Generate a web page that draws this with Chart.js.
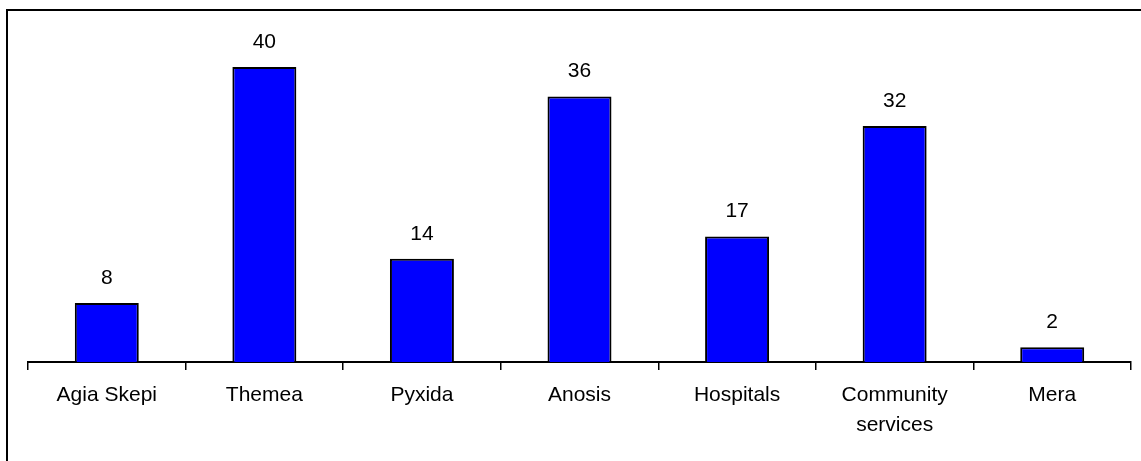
<!DOCTYPE html>
<html>
<head>
<meta charset="utf-8">
<script src="https://cdn.jsdelivr.net/npm/chart.js@4/dist/chart.umd.min.js"></script>
<style>
  html, body { margin: 0; padding: 0; background: #fff; }
  #wrap { position: relative; width: 1141px; height: 461px; }
</style>
</head>
<body>
<div id="wrap"><canvas id="chart"></canvas></div>
<script>
// --- data
const categories = ["Agia Skepi", "Themea", "Pyxida", "Anosis", "Hospitals", ["Community", "services"], "Mera"];
const counts = [8, 40, 14, 36, 17, 32, 2];

// --- frame round the chart (only top + left are visible)
const framePlugin = {
  id: 'frame',
  beforeDraw(chart) {
    const ctx = chart.ctx;
    ctx.save();
    ctx.strokeStyle = '#000';
    ctx.lineWidth = 2;
    ctx.beginPath();
    ctx.moveTo(7, 461);
    ctx.lineTo(7, 10);
    ctx.lineTo(1141, 10);
    ctx.stroke();
    ctx.restore();
  }
};

// --- numbers above bars
const valueLabels = {
  id: 'valueLabels',
  afterDatasetsDraw(chart) {
    const ctx = chart.ctx;
    const meta = chart.getDatasetMeta(0);
    ctx.save();
    ctx.font = '21px "Liberation Sans", Arial, sans-serif';
    ctx.fillStyle = '#000';
    ctx.textAlign = 'center';
    ctx.textBaseline = 'middle';
    meta.data.forEach((bar, i) => {
      ctx.fillText(counts[i], bar.x, bar.y - 25);
    });
    ctx.restore();
  }
};

window.addEventListener("load", () => {
  const ctx = document.getElementById("chart").getContext("2d");
  new Chart(ctx, {
    type: "bar",
    data: {
      labels: categories,
      datasets: [{
        data: counts,
        backgroundColor: "#0000ff",
        borderColor: "#000",
        borderWidth: 2,
        categoryPercentage: 1,
        barPercentage: 0.406
      }]
    },
    options: {
      responsive: true, maintainAspectRatio: false,
      animation: false,
      layout: { padding: { left: 28, right: 10, top: 30, bottom: 0 } },
      plugins: { legend: { display: false }, tooltip: { enabled: false } },
      scales: {
        y: { display: false, min: 0, max: 45 },
        x: {
          offset: true,
          border: { color: "#000", width: 2 },
          grid: { offset: true, drawOnChartArea: false, color: "#000", lineWidth: 1.5, tickLength: 8 },
          ticks: {
            color: "#000",
            padding: 10,
            maxRotation: 0,
            autoSkip: false,
            font: { family: '"Liberation Sans", Arial, sans-serif', size: 21, lineHeight: 1.43 }
          },
          afterFit(scale) { scale.height = 99; }
        }
      }
    },
    plugins: [framePlugin, valueLabels]
  });
});
</script>
</body>
</html>
